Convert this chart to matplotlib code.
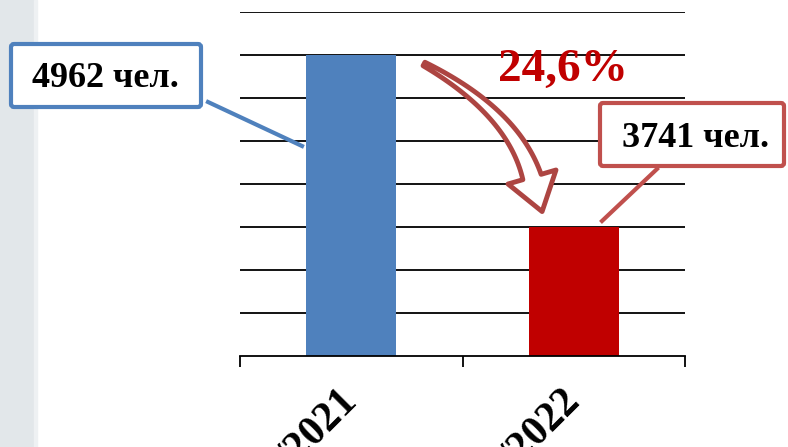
import matplotlib
matplotlib.use('Agg')
import matplotlib.pyplot as plt
import matplotlib.transforms as mtransforms
from matplotlib.patches import Rectangle, FancyBboxPatch, Polygon
from matplotlib.lines import Line2D
import numpy as np

# data
categories = ['2020/2021', '2021/2022']
values = [4962, 3741]
value_labels = ['4962 чел.', '3741 чел.']
change_label = '24,6%'
bar_colors = ['#4f81bd', '#c00000']
box_colors = ['#4f81bd', '#c0504d']

W, H = 788, 447
fig = plt.figure(figsize=(W / 100, H / 100), dpi=100)
plt.rcParams['font.family'] = ['Liberation Serif', 'DejaVu Serif']

# image pixel coords (y down) -> display
px = mtransforms.Affine2D().scale(1 / W, -1 / H).translate(0, 1) + fig.transFigure


def curved_arrow(p0, c, p1, w0, w1, head_w, head_len, n=40):
    """Outline of a tapering curved block arrow along a quadratic bezier."""
    p0, c, p1 = map(np.asarray, (p0, c, p1))
    t = np.linspace(0, 1, n)[:, None]
    pts = (1 - t) ** 2 * p0 + 2 * (1 - t) * t * c + t ** 2 * p1
    der = 2 * (1 - t) * (c - p0) + 2 * t * (p1 - c)
    der = der / np.linalg.norm(der, axis=1)[:, None]
    nrm = np.column_stack([-der[:, 1], der[:, 0]])
    w = (w0 + (w1 - w0) * t) / 2
    left = pts + nrm * w
    right = pts - nrm * w
    d, nn = der[-1], nrm[-1]
    head = [p1 + nn * head_w / 2, p1 + d * head_len, p1 - nn * head_w / 2]
    return np.vstack([left, head, right[::-1]])


# grey strip on the left
fig.patches.append(Rectangle((0, 0), 34, H, transform=px, color='#e2e7ea', zorder=0))
fig.patches.append(Rectangle((34, 0), 3, H, transform=px, color='#eef1f3', zorder=0))

ax = fig.add_axes([240 / W, 1 - 356 / H, 445 / W, 344 / H])
ax.set_facecolor('none')

# axis scale: grid step taken from the two values (chart is not zero based)
step = (values[0] - values[1]) / 4
lo = values[1] - 3 * step
hi = lo + 8 * step
ax.set_ylim(lo, hi)
ax.set_xlim(-0.5, 1.5)
for yv in np.linspace(lo, hi, 9)[1:]:
    ax.axhline(yv, color='black', lw=1.3, zorder=1)

x = np.arange(len(categories))
ax.bar(x, np.array(values) - lo, bottom=lo, width=0.405, color=bar_colors, zorder=2)

for s in ['top', 'right', 'left']:
    ax.spines[s].set_visible(False)
ax.spines['bottom'].set_linewidth(1.3)
ax.set_yticks([])
ax.set_xticks(x)
ax.set_xticklabels([])
ax.tick_params(axis='x', which='major', length=0)
ax.set_xticks([-0.5, 0.5, 1.5], minor=True)
ax.tick_params(axis='x', which='minor', length=8, width=1.3, direction='out')

# rotated category labels (cut by the bottom edge)
for i, c in enumerate(categories):
    ax.annotate(c, xy=(i, 0), xycoords=('data', 'axes fraction'),
                xytext=(5, -33), textcoords='offset points',
                rotation=45, rotation_mode='anchor', ha='right', va='baseline',
                fontsize=30, fontweight='bold', annotation_clip=False)

# value callouts
fig.patches.append(FancyBboxPatch((11, 44), 190, 63, boxstyle='round,pad=0,rounding_size=3',
                                  transform=px, fc='white', ec=box_colors[0], lw=3, zorder=5))
fig.lines.append(Line2D([208, 302], [102, 146], transform=px, color=box_colors[0], lw=3, zorder=5))
fig.text(105, 87, value_labels[0], transform=px, ha='center', va='baseline',
         fontsize=26, fontweight='bold', zorder=6)

fig.patches.append(FancyBboxPatch((600, 103), 184, 63, boxstyle='round,pad=0,rounding_size=3',
                                  transform=px, fc='white', ec=box_colors[1], lw=3, zorder=5))
fig.lines.append(Line2D([657, 602], [169, 221], transform=px, color=box_colors[1], lw=3, zorder=5))
fig.text(696, 147, value_labels[1], transform=px, ha='center', va='baseline',
         fontsize=26, fontweight='bold', zorder=6)

# change label and curved arrow
fig.text(563, 81, change_label, transform=px, ha='center', va='baseline',
         fontsize=34, fontweight='bold', color='#c00000', zorder=6)
outline = curved_arrow((424, 64), (513, 112), (532, 177), w0=4, w1=19, head_w=50, head_len=36)
fig.patches.append(Polygon(outline, closed=True, transform=px, fc='white', ec='#ad4542',
                           lw=3.5, joinstyle='round', zorder=6))

fig.savefig('out.png', dpi=100)
